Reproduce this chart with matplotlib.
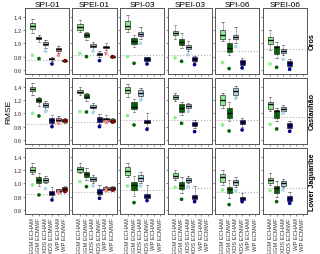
import matplotlib
matplotlib.use('Agg')
from matplotlib import pyplot as plt

plt.rcParams['font.family'] = 'Liberation Sans'

indices = ['SPI-01', 'SPEI-01', 'SPI-03', 'SPEI-03', 'SPI-06', 'SPEI-06']
regions = ['Oros', 'Castanhão', 'Lower Jaguaribe']
models = ['EGM ECHAM', 'EGM ECMWF', 'XDS ECHAM', 'XDS ECMWF', 'WP ECHAM', 'WP ECMWF']
colors = ['#90ee90', '#006400', '#add8e6', '#00008b', '#f48a8a', '#8b0000']

# box statistics, [region][index][model]; WP only for 1-month indices
whislo = [
    [[1.16, 1.02, 0.93, 0.74, 0.86, 0.72], [1.17, 1.05, 0.90, 0.79, 0.90, 0.78],
     [1.17, 0.94, 1.07, 0.73], [1.07, 0.93, 0.88, 0.72],
     [1.03, 0.82, 1.00, 0.66], [0.90, 0.78, 0.82, 0.64]],
    [[1.275, 1.115, 1.05, 0.84, 0.86, 0.86], [1.27, 1.19, 1.04, 0.84, 0.86, 0.85],
     [1.25, 1.015, 1.22, 0.80], [1.19, 0.98, 1.05, 0.78],
     [1.08, 0.89, 1.24, 0.80], [1.03, 0.89, 1.00, 0.75]],
    [[1.14, 0.965, 1.00, 0.80, 0.86, 0.87], [1.15, 1.05, 1.01, 0.825, 0.89, 0.89],
     [1.09, 0.81, 1.01, 0.75], [1.05, 0.85, 1.00, 0.75],
     [0.975, 0.775, 0.94, 0.74], [0.975, 0.80, 0.94, 0.71]],
]
q1 = [
    [[1.21, 1.065, 0.97, 0.76, 0.89, 0.73], [1.20, 1.10, 0.94, 0.82, 0.925, 0.79],
     [1.21, 0.99, 1.11, 0.74], [1.12, 0.97, 0.915, 0.74],
     [1.07, 0.87, 1.06, 0.68], [0.99, 0.84, 0.85, 0.655]],
    [[1.335, 1.175, 1.10, 0.86, 0.885, 0.875], [1.30, 1.235, 1.075, 0.865, 0.885, 0.865],
     [1.30, 1.065, 1.265, 0.85], [1.215, 1.025, 1.075, 0.815],
     [1.125, 0.935, 1.275, 0.835], [1.065, 0.935, 1.035, 0.785]],
    [[1.17, 1.00, 1.02, 0.82, 0.87, 0.89], [1.17, 1.09, 1.04, 0.84, 0.90, 0.90],
     [1.13, 0.90, 1.04, 0.775], [1.075, 0.91, 1.02, 0.76],
     [1.025, 0.86, 0.975, 0.75], [1.01, 0.86, 0.96, 0.735]],
]
med = [
    [[1.26, 1.08, 0.99, 0.77, 0.91, 0.74], [1.24, 1.12, 0.96, 0.84, 0.94, 0.80],
     [1.26, 1.04, 1.14, 0.77], [1.16, 1.02, 0.94, 0.77],
     [1.13, 0.935, 1.10, 0.72], [1.05, 0.95, 0.88, 0.70]],
    [[1.365, 1.20, 1.12, 0.90, 0.905, 0.895], [1.325, 1.25, 1.10, 0.92, 0.91, 0.89],
     [1.35, 1.10, 1.30, 0.87], [1.245, 1.08, 1.11, 0.84],
     [1.20, 1.00, 1.33, 0.87], [1.135, 1.04, 1.07, 0.82]],
    [[1.205, 1.05, 1.05, 0.86, 0.89, 0.92], [1.21, 1.14, 1.07, 0.87, 0.92, 0.925],
     [1.19, 0.97, 1.085, 0.81], [1.11, 0.975, 1.05, 0.79],
     [1.09, 0.91, 1.015, 0.775], [1.05, 0.925, 1.00, 0.775]],
]
q3 = [
    [[1.31, 1.10, 1.015, 0.78, 0.925, 0.75], [1.285, 1.155, 0.99, 0.855, 0.96, 0.81],
     [1.34, 1.08, 1.17, 0.79], [1.19, 1.07, 0.975, 0.79],
     [1.20, 1.00, 1.13, 0.75], [1.09, 0.965, 0.91, 0.74]],
    [[1.40, 1.235, 1.15, 0.935, 0.925, 0.915], [1.35, 1.285, 1.125, 0.95, 0.935, 0.915],
     [1.40, 1.175, 1.35, 0.90], [1.275, 1.135, 1.135, 0.865],
     [1.275, 1.075, 1.375, 0.90], [1.175, 1.05, 1.10, 0.85]],
    [[1.24, 1.09, 1.075, 0.89, 0.91, 0.94], [1.24, 1.175, 1.10, 0.91, 0.95, 0.95],
     [1.24, 1.025, 1.125, 0.84], [1.15, 1.025, 1.075, 0.825],
     [1.14, 0.95, 1.05, 0.80], [1.085, 0.96, 1.03, 0.81]],
]
whishi = [
    [[1.37, 1.12, 1.05, 0.80, 0.96, 0.76], [1.345, 1.17, 1.02, 0.89, 1.00, 0.82],
     [1.42, 1.13, 1.25, 0.80], [1.28, 1.15, 1.03, 0.81],
     [1.32, 1.07, 1.25, 0.78], [1.20, 1.02, 0.975, 0.76]],
    [[1.45, 1.25, 1.18, 0.98, 0.96, 0.93], [1.39, 1.30, 1.16, 0.99, 0.97, 0.93],
     [1.44, 1.21, 1.38, 1.00], [1.30, 1.17, 1.16, 0.90],
     [1.30, 1.165, 1.41, 0.93], [1.25, 1.08, 1.12, 0.88]],
    [[1.31, 1.15, 1.11, 0.95, 0.92, 0.96], [1.30, 1.225, 1.125, 0.975, 0.96, 0.96],
     [1.30, 1.11, 1.175, 0.975], [1.20, 1.09, 1.11, 0.96],
     [1.20, 1.05, 1.10, 0.85], [1.15, 1.04, 1.07, 0.875]],
]
# single reference value per model (dots below the boxes)
ref = [
    [[0.82, 0.77, 0.88, 0.69, 0.82, 0.74], [0.85, 0.80, 0.88, 0.74, 0.85, 0.80],
     [0.80, 0.70, 1.00, 0.69], [0.78, 0.73, 0.83, 0.68],
     [0.71, 0.62, 0.95, 0.63], [0.69, 0.64, 0.76, 0.61]],
    [[1.00, 0.96, 1.025, 0.80, 0.85, 0.89], [1.025, 1.02, 1.01, 0.80, 0.865, 0.87],
     [0.965, 0.825, 1.20, 0.76], [0.935, 0.85, 1.025, 0.725],
     [0.825, 0.735, 1.225, 0.75], [0.835, 0.765, 1.00, 0.73]],
    [[0.975, 0.825, 0.92, 0.75, 0.86, 0.875], [1.025, 0.95, 0.96, 0.775, 0.89, 0.90],
     [0.96, 0.71, 0.96, 0.74], [0.94, 0.76, 0.95, 0.725],
     [0.90, 0.68, 0.89, 0.725], [0.89, 0.725, 0.90, 0.70]],
]
baseline = [
    [0.75, 0.82, 0.82, 0.83, 0.88, 0.91],
    [0.835, 0.875, 0.895, 0.90, 0.90, 0.95],
    [0.835, 0.875, 0.90, 0.925, 0.875, 0.925],
]

fig, axes = plt.subplots(3, 6, figsize=(3.2, 2.55), dpi=100, sharey=True)
fig.subplots_adjust(left=0.078, right=0.959, top=0.965, bottom=0.157,
                    wspace=0.075, hspace=0.06)

for r in range(3):
    for c in range(6):
        ax = axes[r][c]
        n = len(med[r][c])
        pos = list(range(1, n + 1))
        stats = []
        for k in range(n):
            stats.append(dict(med=med[r][c][k], q1=q1[r][c][k], q3=q3[r][c][k],
                              whislo=whislo[r][c][k], whishi=whishi[r][c][k], fliers=[]))
        ax.axhline(baseline[r][c], ls=':', color='#b0b0b0', lw=0.8, zorder=0)
        bp = ax.bxp(stats, positions=pos, widths=0.78, patch_artist=True, showfliers=False,
                    boxprops=dict(edgecolor='#333333', lw=0.5),
                    medianprops=dict(color='black', lw=1.0),
                    whiskerprops=dict(ls='--', lw=0.4, color='#333333'),
                    capprops=dict(lw=0.4, color='#333333'))
        for k, patch in enumerate(bp['boxes']):
            patch.set_facecolor(colors[k])
        ax.scatter(pos, ref[r][c], c=colors[:n], s=7, edgecolors='none', zorder=3)

        ax.set_xlim(-0.15, 6.65)
        ax.set_ylim(0.54, 1.53)
        ax.set_yticks([0.6, 0.8, 1.0, 1.2, 1.4])
        ax.set_yticklabels(['0.6', '0.8', '1.0', '1.2', '1.4'])
        ax.set_xticks(range(1, 7))
        if r == 2:
            ax.set_xticklabels(models, rotation=90, fontsize=3.8)
        else:
            ax.set_xticklabels([])
        ax.tick_params(axis='both', length=1.5, width=0.4, pad=1, labelsize=4.2,
                       colors='#333333')
        for s in ax.spines.values():
            s.set_color('#555555')
            s.set_linewidth(0.7)
        if r == 0:
            ax.set_title(indices[c], fontsize=6.0, pad=1.5)

for r in range(3):
    box = axes[r][5].get_position()
    fig.text(0.977, (box.y0 + box.y1) / 2, regions[r], rotation=90, fontsize=5.2,
             fontweight='bold', ha='center', va='center')

fig.text(0.028, 0.56, 'RMSE', rotation=90, fontsize=6.0, ha='center', va='center')

fig.savefig('out.png', dpi=100)
